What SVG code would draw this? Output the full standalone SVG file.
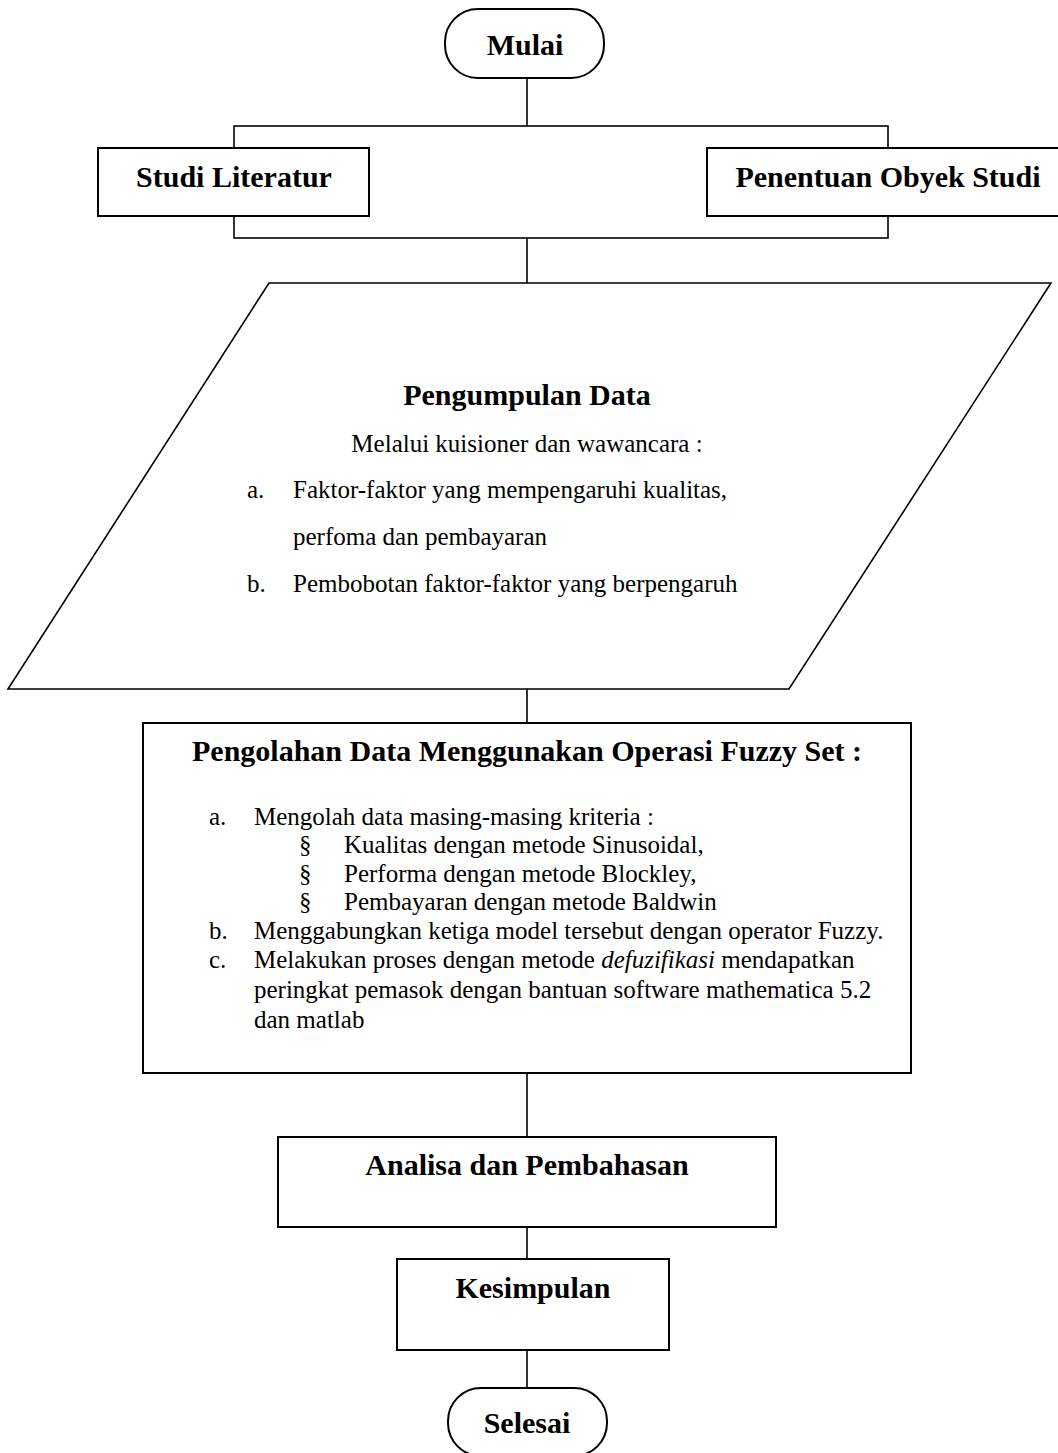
<svg xmlns="http://www.w3.org/2000/svg" width="1058" height="1453" viewBox="0 0 1058 1453">
<style>
.shape{fill:#fff;stroke:#000;stroke-width:2}
.para{fill:#fff;stroke:#000;stroke-width:1.6}
.conn{fill:none;stroke:#000;stroke-width:1.6}
.b{font-family:"Liberation Serif","Times New Roman",serif;font-weight:bold;font-size:30px;fill:#000}
.r{font-family:"Liberation Serif","Times New Roman",serif;font-size:25px;fill:#000}
.c{text-anchor:middle}
</style>
<rect width="1058" height="1453" fill="#fff"/>
<g id="connectors">
<line class="conn" x1="527" y1="78" x2="527" y2="126"/>
<rect class="conn" x="234" y="126" width="654" height="112"/>
<line class="conn" x1="527" y1="238" x2="527" y2="283"/>
<line class="conn" x1="527" y1="689" x2="527" y2="723"/>
<line class="conn" x1="527" y1="1073" x2="527" y2="1137"/>
<line class="conn" x1="527" y1="1227" x2="527" y2="1259"/>
<line class="conn" x1="527" y1="1350" x2="527" y2="1388"/>
</g>
<g id="mulai">
<rect class="shape" x="445" y="9" width="159" height="69" rx="33" ry="33"/>
<text class="b c" x="525" y="55">Mulai</text>
</g>
<g id="studi-literatur">
<rect class="shape" x="98" y="148" width="271" height="68"/>
<text class="b c" x="234" y="187">Studi Literatur</text>
</g>
<g id="penentuan-obyek-studi">
<rect class="shape" x="707" y="148" width="362" height="68"/>
<text class="b c" x="888" y="187">Penentuan Obyek Studi</text>
</g>
<g id="pengumpulan-data">
<polygon class="para" points="269,283 1051,283 789,689 8,689"/>
<text class="b c" x="527" y="405">Pengumpulan Data</text>
<text class="r c" x="527" y="452">Melalui kuisioner dan wawancara :</text>
<text class="r" x="247" y="498">a.</text>
<text class="r" x="293" y="498">Faktor-faktor yang mempengaruhi kualitas,</text>
<text class="r" x="293" y="545">perfoma dan pembayaran</text>
<text class="r" x="247" y="592">b.</text>
<text class="r" x="293" y="592">Pembobotan faktor-faktor yang berpengaruh</text>
</g>
<g id="pengolahan-data">
<rect class="shape" x="143" y="723" width="768" height="350"/>
<text class="b" x="192" y="761">Pengolahan Data Menggunakan Operasi Fuzzy Set :</text>
<text class="r" x="209" y="825">a.</text>
<text class="r" x="254" y="825">Mengolah data masing-masing kriteria :</text>
<text class="r" x="299" y="853">§</text>
<text class="r" x="344" y="853">Kualitas dengan metode Sinusoidal,</text>
<text class="r" x="299" y="882">§</text>
<text class="r" x="344" y="882">Performa dengan metode Blockley,</text>
<text class="r" x="299" y="910">§</text>
<text class="r" x="344" y="910">Pembayaran dengan metode Baldwin</text>
<text class="r" x="209" y="939">b.</text>
<text class="r" x="254" y="939">Menggabungkan ketiga model tersebut dengan operator Fuzzy.</text>
<text class="r" x="209" y="968">c.</text>
<text class="r" x="254" y="968">Melakukan proses dengan metode <tspan font-style="italic">defuzifikasi</tspan> mendapatkan</text>
<text class="r" x="254" y="998">peringkat pemasok dengan bantuan software mathematica 5.2</text>
<text class="r" x="254" y="1028">dan matlab</text>
</g>
<g id="analisa">
<rect class="shape" x="278" y="1137" width="498" height="90"/>
<text class="b c" x="527" y="1175">Analisa dan Pembahasan</text>
</g>
<g id="kesimpulan">
<rect class="shape" x="397" y="1259" width="272" height="91"/>
<text class="b c" x="533" y="1298">Kesimpulan</text>
</g>
<g id="selesai">
<rect class="shape" x="448" y="1388" width="159" height="68" rx="33" ry="33"/>
<text class="b c" x="527" y="1433">Selesai</text>
</g>
</svg>
